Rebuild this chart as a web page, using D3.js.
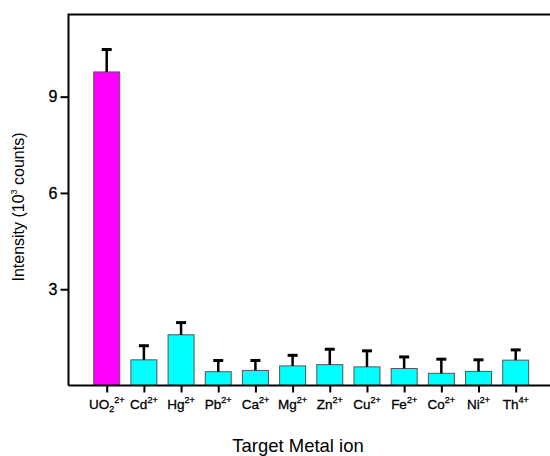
<!DOCTYPE html>
<html><head><meta charset="utf-8">
<script src="https://cdn.jsdelivr.net/npm/d3@7"></script>
<style>body{margin:0;background:#fff}text{font-family:"Liberation Sans",Arial,sans-serif}</style>
</head><body><svg id="c" width="550" height="456"></svg>
<script>
const ions = ["UO", "Cd", "Hg", "Pb", "Ca", "Mg", "Zn", "Cu", "Fe", "Co", "Ni", "Th"];
const subs = ["2", "", "", "", "", "", "", "", "", "", "", ""];
const charges = ["2+", "2+", "2+", "2+", "2+", "2+", "2+", "2+", "2+", "2+", "2+", "4+"];
const intensity = [9.77, 0.80, 1.58, 0.43, 0.47, 0.61, 0.65, 0.58, 0.53, 0.38, 0.44, 0.79];
const errors = [0.70, 0.44, 0.38, 0.35, 0.31, 0.33, 0.48, 0.50, 0.36, 0.44, 0.36, 0.32];
const yTicks = [3, 6, 9];

const svg = d3.select("#c");
const L = 68.5, B = 385.5, T = 14.5, R = 560;
const x = d3.scalePoint().domain(ions).range([106.7, 515.7]);
const y = d3.scaleLinear().domain([0, 11.56]).range([B, T]);
const bw = 26;

// frame
svg.append("path").attr("d", `M${L},${B}V${T}H${R}`).attr("fill","none").attr("stroke","#000").attr("stroke-width",2);

// bars
svg.selectAll("rect.bar").data(ions).enter().append("rect")
  .attr("x", d => x(d) - bw/2).attr("width", bw)
  .attr("y", (d,i) => y(intensity[i])).attr("height", (d,i) => B - y(intensity[i]))
  .attr("fill", (d,i) => i === 0 ? "#ff00ff" : "#00ffff")
  .attr("stroke", "#555").attr("stroke-width", 1);

// error bars
const eg = svg.selectAll("g.err").data(ions).enter().append("g");
eg.append("line").attr("x1", d => x(d)).attr("x2", d => x(d))
  .attr("y1", (d,i) => y(intensity[i])).attr("y2", (d,i) => y(intensity[i] + errors[i]))
  .attr("stroke", "#000").attr("stroke-width", 2.5);
eg.append("line").attr("x1", d => x(d) - 5).attr("x2", d => x(d) + 5)
  .attr("y1", (d,i) => y(intensity[i] + errors[i])).attr("y2", (d,i) => y(intensity[i] + errors[i]))
  .attr("stroke", "#000").attr("stroke-width", 3);

// x axis
const xa = svg.append("g").attr("transform", `translate(0,${B})`)
  .call(d3.axisBottom(x).tickSize(7).tickFormat(""));
xa.select(".domain").attr("d", `M${L},0H${R}`).attr("stroke-width", 2);
xa.selectAll(".tick line").attr("stroke-width", 2);

// x labels
const xl = svg.selectAll("text.xl").data(ions).enter().append("text")
  .attr("x", d => x(d)).attr("y", 409).attr("text-anchor", "middle")
  .attr("font-size", 13.5).attr("fill", "#000").attr("stroke", "#000").attr("stroke-width", 0.3);
xl.append("tspan").text(d => d);
xl.each(function(d,i){
  const t = d3.select(this);
  if (subs[i]) t.append("tspan").attr("font-size", 9).attr("dy", 3).text(subs[i]);
  t.append("tspan").attr("font-size", 9).attr("dy", subs[i] ? -9 : -6).text(charges[i]);
});

// y axis
const ya = svg.append("g").attr("transform", `translate(${L},0)`)
  .call(d3.axisLeft(y).tickValues(yTicks).tickSize(8).tickPadding(3).tickFormat(d3.format("d")));
ya.select(".domain").remove();
ya.selectAll(".tick line").attr("stroke-width", 2);
ya.selectAll(".tick text").attr("font-size", 16).attr("font-family", "Liberation Sans, Arial, sans-serif").attr("fill","#000").attr("stroke","#000").attr("stroke-width",0.3);

// y title
const yt = svg.append("text").attr("transform", "translate(24,207) rotate(-90)")
  .attr("text-anchor", "middle").attr("font-size", 16).attr("fill", "#000");
yt.append("tspan").text("Intensity (10");
yt.append("tspan").attr("font-size", 9).attr("dy", -7).text("3");
yt.append("tspan").attr("dy", 7).text(" counts)");

// x title
svg.append("text").attr("x", 298).attr("y", 452).attr("text-anchor", "middle")
  .attr("font-size", 18.5).attr("fill", "#000").text("Target Metal ion");
</script></body></html>
